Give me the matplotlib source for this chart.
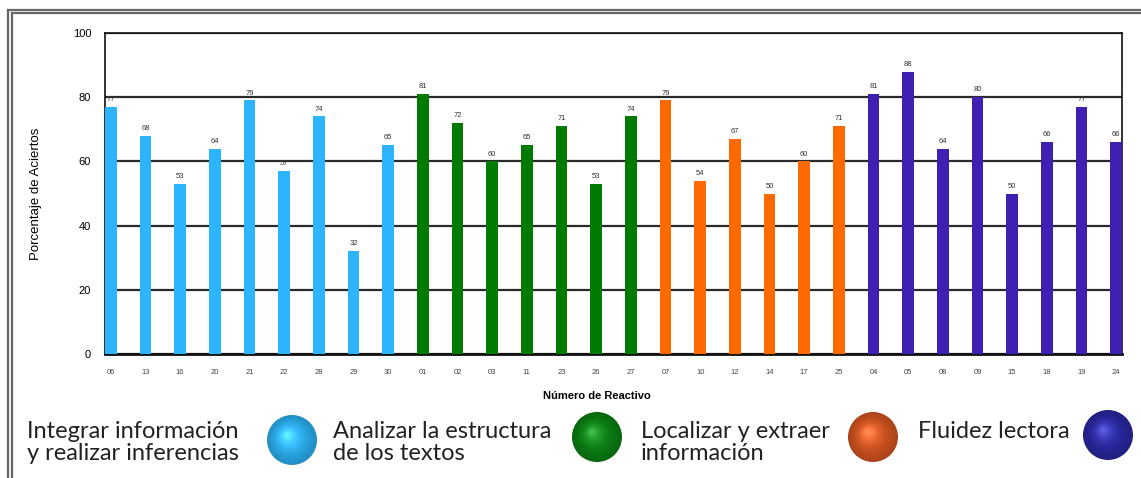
import matplotlib.pyplot as plt
import numpy as np
from matplotlib.patches import Circle
from matplotlib.lines import Line2D

# datos por competencia
reactivos_integrar = ['06', '13', '16', '20', '21', '22', '28', '29', '30']
aciertos_integrar = [77, 68, 53, 64, 79, 57, 74, 32, 65]
reactivos_analizar = ['01', '02', '03', '11', '23', '26', '27']
aciertos_analizar = [81, 72, 60, 65, 71, 53, 74]
reactivos_localizar = ['07', '10', '12', '14', '17', '25']
aciertos_localizar = [79, 54, 67, 50, 60, 71]
reactivos_fluidez = ['04', '05', '08', '09', '15', '18', '19', '24']
aciertos_fluidez = [81, 88, 64, 80, 50, 66, 77, 66]

grupos = [
    ('Integrar información\ny realizar inferencias', reactivos_integrar, aciertos_integrar, '#2DB4FF', '#29A8E6'),
    ('Analizar la estructura\nde los textos', reactivos_analizar, aciertos_analizar, '#007A00', '#0A7A12'),
    ('Localizar y extraer\ninformación', reactivos_localizar, aciertos_localizar, '#FF6A00', '#C9501E'),
    ('Fluidez lectora', reactivos_fluidez, aciertos_fluidez, '#3F20B2', '#26259A'),
]

W, H = 1141, 478
fig = plt.figure(figsize=(W / 100, H / 100), dpi=100)

ax = fig.add_axes([105 / W, 1 - 354 / H, (1122 - 105) / W, (354 - 33) / H])

etiquetas = []
valores = []
colores = []
for _, reac, vals, col, _ in grupos:
    etiquetas += reac
    valores += vals
    colores += [col] * len(reac)

x = np.arange(len(etiquetas))
ax.set_axisbelow(True)
ax.yaxis.grid(True, color='#2a2a2a', linewidth=1.6)
ax.bar(x, valores, width=0.34, color=colores, zorder=3)
for xi, v in zip(x, valores):
    ax.text(xi, v + 1.2, str(v), ha='center', va='bottom', fontsize=5.5,
            color='#333333', family='Liberation Sans')

ax.set_xlim(-0.17, len(etiquetas) - 1 + 0.17)
ax.set_ylim(0, 100)
ax.set_yticks([0, 20, 40, 60, 80, 100])
ax.set_xticks(x)
ax.set_xticklabels(etiquetas, fontsize=5.5, color='#444444', family='Liberation Sans')
ax.tick_params(axis='both', length=0)
ax.tick_params(axis='x', pad=11)
ax.tick_params(axis='y', labelsize=8, pad=10)
for lab in ax.get_yticklabels():
    lab.set_family('Liberation Sans')
for s in ax.spines.values():
    s.set_color('#111111')
    s.set_linewidth(1.2)
ax.spines['bottom'].set_linewidth(2)

ax.set_ylabel('Porcentaje de Aciertos', fontsize=9.5, family='Liberation Sans', labelpad=22)
fig.text(597 / W, 1 - 396 / H, 'Número de Reactivo', ha='center', va='center',
         fontsize=8, fontweight='bold', family='Liberation Sans')

# capa de figura en pixeles para marco y leyenda
ov = fig.add_axes([0, 0, 1, 1], zorder=-1)
ov.set_xlim(0, W)
ov.set_ylim(H, 0)
ov.axis('off')
fg = fig.add_axes([0, 0, 1, 1], zorder=5)
fg.set_xlim(0, W)
fg.set_ylim(H, 0)
fg.axis('off')
fg.patch.set_alpha(0)

# marco doble
for off in (9.5, 13):
    ov.add_line(Line2D([off - 1.5, W], [off, off], color='#666666', lw=1.6))
    ov.add_line(Line2D([off - 1.5, off - 1.5], [off, H], color='#666666', lw=1.6))

# leyenda
text_x = [27, 333, 641, 918]
esferas = [(292, 440), (597, 437), (873, 437), (1108, 435)]
for (nombre, _, _, _, esf), tx, (cx, cy) in zip(grupos, text_x, esferas):
    for i, linea in enumerate(nombre.split('\n')):
        fg.text(tx, 432 + 21 * i, linea, ha='left', va='center',
                fontsize=17, family='Lato', color='#222222')
    base = np.array(plt.matplotlib.colors.to_rgb(esf))
    r0 = 25
    for k in range(30):
        t = k / 29
        r = r0 * (1 - t * 0.92)
        col = base * (0.85 + 0.3 * t)
        col = np.clip(col + t ** 3 * 0.2, 0, 1)
        fg.add_patch(Circle((cx - 5 * t, cy - 5 * t), r, color=col, lw=0))

fig.savefig('out.png', dpi=100)
